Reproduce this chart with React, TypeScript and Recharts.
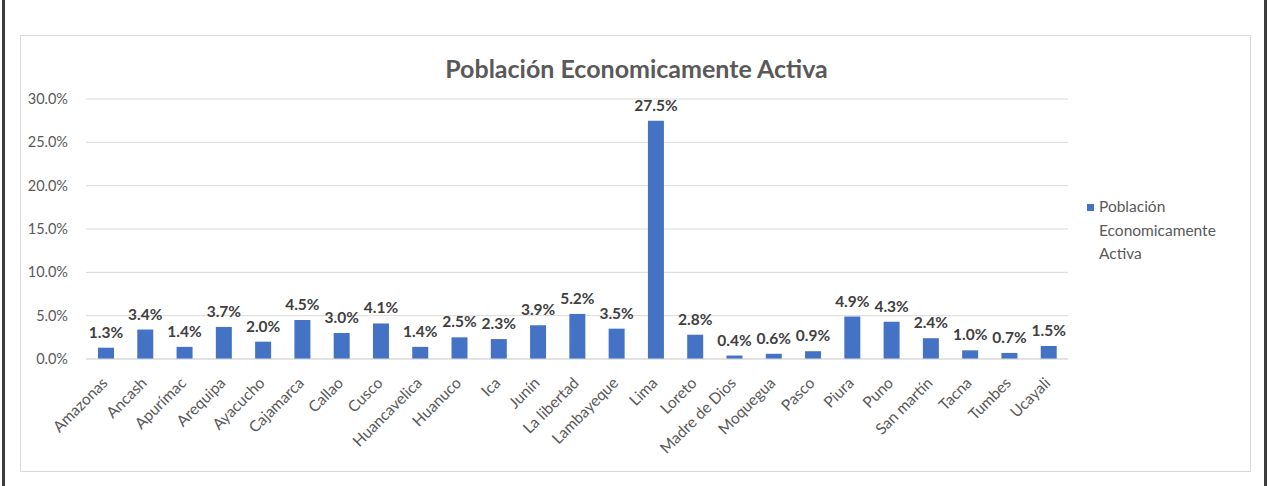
import { BarChart, Bar, XAxis, YAxis, CartesianGrid, LabelList } from "recharts"

const regions = [
  "Amazonas", "Ancash", "Apurímac", "Arequipa", "Ayacucho", "Cajamarca", "Callao",
  "Cusco", "Huancavelica", "Huanuco", "Ica", "Junín", "La libertad", "Lambayeque",
  "Lima", "Loreto", "Madre de Dios", "Moquegua", "Pasco", "Piura", "Puno",
  "San martín", "Tacna", "Tumbes", "Ucayali",
]
const pea = [
  1.3, 3.4, 1.4, 3.7, 2.0, 4.5, 3.0, 4.1, 1.4, 2.5, 2.3, 3.9, 5.2, 3.5,
  27.5, 2.8, 0.4, 0.6, 0.9, 4.9, 4.3, 2.4, 1.0, 0.7, 1.5,
]
const yTicks = [0, 5, 10, 15, 20, 25, 30]

const seriesName = "Población Economicamente Activa"
const data = regions.map((region, i) => ({ region, pea: pea[i] }))

const FONT = "Lato, 'Open Sans', sans-serif"
const BLUE = "#4472c4"

function RegionTick(props: any) {
  const { x, y, payload } = props
  const tx = x + 3
  const ty = y + 17
  return (
    <text
      x={tx}
      y={ty}
      transform={`rotate(-45, ${tx}, ${ty})`}
      textAnchor="end"
      fontSize={15.5}
      fontFamily={FONT}
      fill="#595959"
    >
      {payload.value}
    </text>
  )
}

// legend sits to the right of the plot, outside the svg
function LegendBox() {
  return (
    <div
      style={{
        position: "absolute",
        left: 1066,
        top: 159,
        fontFamily: FONT,
        fontSize: 15.5,
        color: "#595959",
        lineHeight: "23.5px",
        display: "flex",
      }}
    >
      <div style={{ width: 7, height: 7, background: BLUE, marginTop: 9, marginRight: 5 }} />
      <div>
        Población
        <br />
        Economicamente
        <br />
        Activa
      </div>
    </div>
  )
}

export default function App() {
  return (
    <div style={{ position: "absolute", left: 0, top: 0, width: 1268, height: 486, background: "#fff" }}>
      <div style={{ position: "absolute", left: 2, top: 0, width: 3, height: 486, background: "#3c3c3c" }} />
      <div style={{ position: "absolute", left: 1264, top: 0, width: 3, height: 486, background: "#3c3c3c" }} />
      <div
        style={{
          position: "absolute",
          left: 20,
          top: 35,
          width: 1229,
          height: 435,
          border: "1px solid #d9d9d9",
        }}
      >
        <div
          style={{
            position: "absolute",
            left: 0,
            width: 1231,
            top: 17,
            textAlign: "center",
            fontFamily: FONT,
            fontWeight: 700,
            fontSize: 25,
            color: "#595959",
          }}
        >
          {seriesName}
        </div>
        <BarChart
          width={1229}
          height={435}
          data={data}
          margin={{ top: 63, right: 182, bottom: 0, left: 0 }}
        >
          <CartesianGrid vertical={false} stroke="#d9d9d9" />
          <XAxis
            dataKey="region"
            interval={0}
            height={112}
            tickLine={false}
            axisLine={{ stroke: "#d9d9d9" }}
            tick={<RegionTick />}
          />
          <YAxis
            width={65}
            domain={[0, 30]}
            ticks={yTicks}
            tickFormatter={(v: number) => `${v.toFixed(1)}%`}
            axisLine={false}
            tickLine={false}
            tickSize={0}
            tickMargin={18}
            tick={{ fontSize: 14.5, fontFamily: FONT, fill: "#595959" }}
          />
          <Bar dataKey="pea" name={seriesName} fill={BLUE} barSize={16} isAnimationActive={false}>
            <LabelList
              dataKey="pea"
              position="top"
              offset={10}
              formatter={(v: any) => `${Number(v).toFixed(1)}%`}
              style={{ fontSize: 15.5, fontWeight: 700, fontFamily: FONT, fill: "#404040" }}
            />
          </Bar>
        </BarChart>
        <LegendBox />
      </div>
    </div>
  )
}
